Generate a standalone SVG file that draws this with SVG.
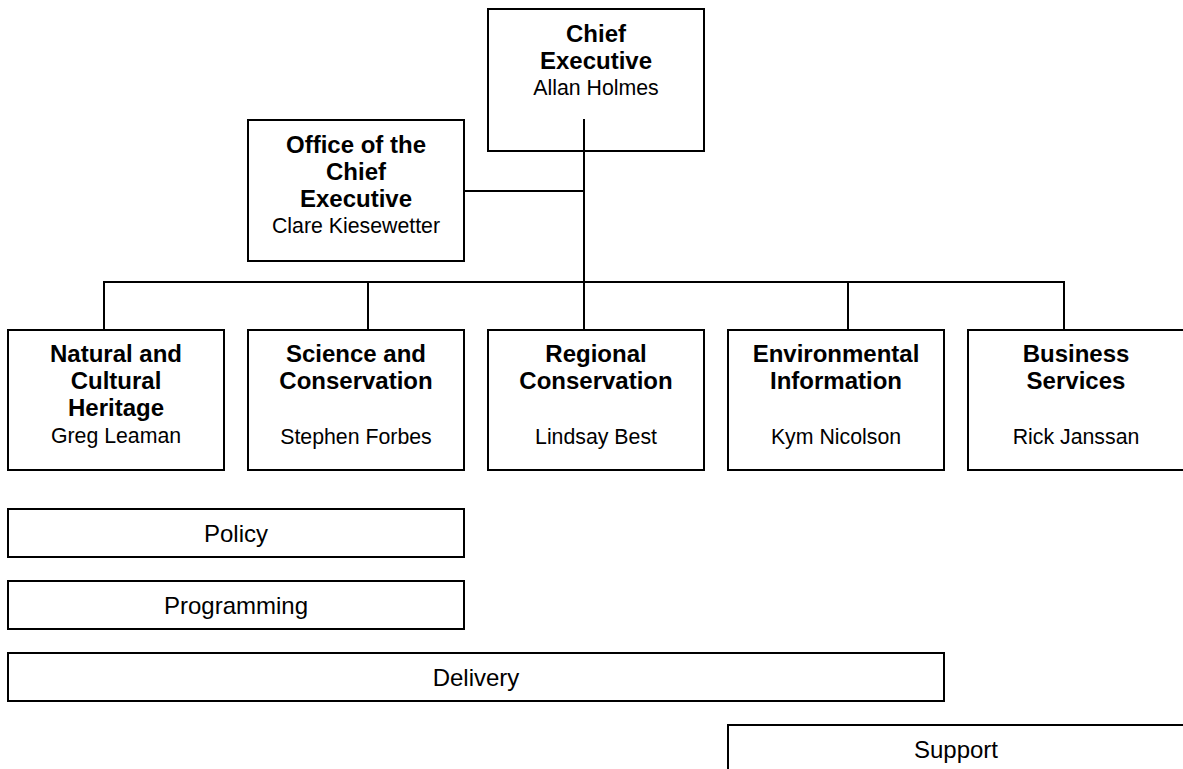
<svg xmlns="http://www.w3.org/2000/svg" width="1183" height="769" viewBox="0 0 1183 769">
<style>
rect{fill:#fff;stroke:#000;stroke-width:2}
.c line{stroke:#000;stroke-width:2}
text{font-family:"Liberation Sans",Arial,sans-serif;font-size:21.3px;text-anchor:middle;fill:#000}
.b{font-weight:bold;font-size:24px}
.l{font-size:24px}
</style>
<rect x="0" y="0" width="1183" height="769" style="stroke:none"/>
<g class="c" id="connectors">
<line x1="584" y1="119" x2="584" y2="283"/>
<line x1="464" y1="191" x2="585" y2="191"/>
<line x1="103" y1="282" x2="1065" y2="282"/>
<line x1="104" y1="281" x2="104" y2="330"/>
<line x1="368" y1="281" x2="368" y2="330"/>
<line x1="584" y1="281" x2="584" y2="330"/>
<line x1="848" y1="281" x2="848" y2="330"/>
<line x1="1064" y1="281" x2="1064" y2="330"/>
</g>
<g id="chief">
<rect x="488" y="9" width="216" height="142"/>
<text class="b" x="596" y="42">Chief</text>
<text class="b" x="596" y="69">Executive</text>
<text x="596" y="95">Allan Holmes</text>
</g>
<line x1="584" y1="119" x2="584" y2="152" style="stroke:#000;stroke-width:2"/>
<g id="office">
<rect x="248" y="120" width="216" height="141"/>
<text class="b" x="356" y="153">Office of the</text>
<text class="b" x="356" y="180">Chief</text>
<text class="b" x="356" y="207">Executive</text>
<text x="356" y="233">Clare Kiesewetter</text>
</g>
<g id="nch">
<rect x="8" y="330" width="216" height="140"/>
<text class="b" x="116" y="362">Natural and</text>
<text class="b" x="116" y="389">Cultural</text>
<text class="b" x="116" y="416">Heritage</text>
<text x="116" y="443">Greg Leaman</text>
</g>
<g id="sci">
<rect x="248" y="330" width="216" height="140"/>
<text class="b" x="356" y="362">Science and</text>
<text class="b" x="356" y="389">Conservation</text>
<text x="356" y="444">Stephen Forbes</text>
</g>
<g id="reg">
<rect x="488" y="330" width="216" height="140"/>
<text class="b" x="596" y="362">Regional</text>
<text class="b" x="596" y="389">Conservation</text>
<text x="596" y="444">Lindsay Best</text>
</g>
<g id="env">
<rect x="728" y="330" width="216" height="140"/>
<text class="b" x="836" y="362">Environmental</text>
<text class="b" x="836" y="389">Information</text>
<text x="836" y="444">Kym Nicolson</text>
</g>
<g id="bus">
<rect x="968" y="330" width="216" height="140"/>
<text class="b" x="1076" y="362">Business</text>
<text class="b" x="1076" y="389">Services</text>
<text x="1076" y="444">Rick Janssan</text>
</g>
<g id="policy">
<rect x="8" y="509" width="456" height="48"/>
<text class="l" x="236" y="542">Policy</text>
</g>
<g id="programming">
<rect x="8" y="581" width="456" height="48"/>
<text class="l" x="236" y="614">Programming</text>
</g>
<g id="delivery">
<rect x="8" y="653" width="936" height="48"/>
<text class="l" x="476" y="686">Delivery</text>
</g>
<g id="support">
<rect x="728" y="725" width="456" height="48"/>
<text class="l" x="956" y="758">Support</text>
</g>
</svg>
